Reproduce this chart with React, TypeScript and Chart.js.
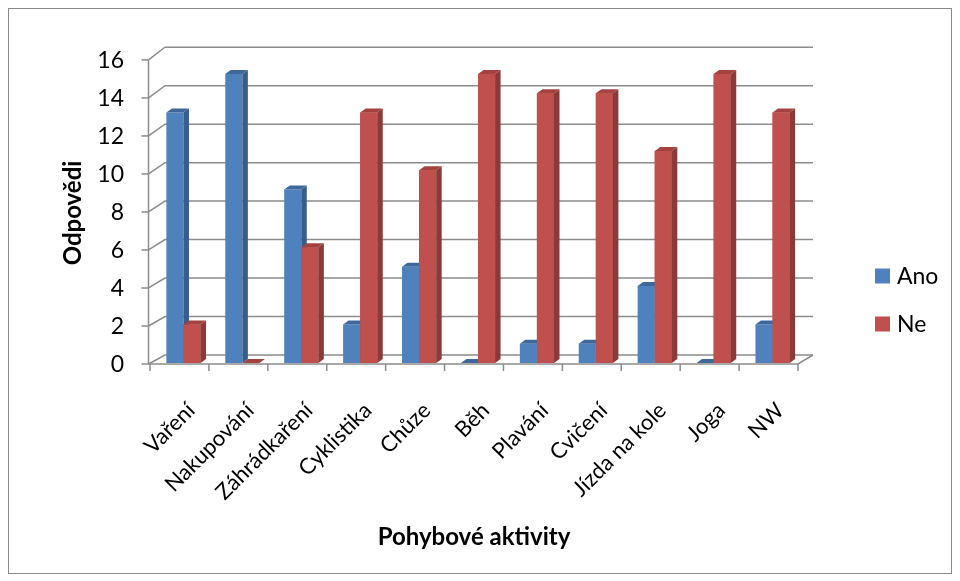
import React, { useEffect, useRef } from 'react';
import { Chart, registerables } from 'chart.js';

Chart.register(...registerables);

// Survey answers per physical activity
const categories = [
  'Vaření',
  'Nakupování',
  'Záhrádkaření',
  'Cyklistika',
  'Chůze',
  'Běh',
  'Plavání',
  'Cvičení',
  'Jízda na kole',
  'Joga',
  'NW',
];
const anoValues = [13, 15, 9, 2, 5, 0, 1, 1, 4, 0, 2];
const neValues = [2, 0, 6, 13, 10, 15, 14, 14, 11, 15, 13];
const seriesNames = ['Ano', 'Ne'];
const yTicks = [0, 2, 4, 6, 8, 10, 12, 14, 16];
const xTitle = 'Pohybové aktivity';
const yTitle = 'Odpovědi';

const FONT = 'Lato, "Open Sans", sans-serif';
const BLUE = { front: '#4f81bd', side: '#385d8a', top: '#3e689c' };
const RED = { front: '#c0504d', side: '#8a3a38', top: '#a4423f' };
const GRID = '#8c8c8c';

// depth of the pseudo-3D extrusion
const DX = 5.5;
const DY = -4;
const BAR_SHIFT = 4;
const WALL_DX = 15;

function drawFaces(ctx: CanvasRenderingContext2D, el: any, side: string, top: string) {
  const p = el.getProps(['x', 'y', 'width', 'base'], true);
  const l = p.x - p.width / 2;
  const r = p.x + p.width / 2;
  const t = Math.min(p.y, p.base);
  const b = Math.max(p.y, p.base);
  ctx.fillStyle = side;
  ctx.beginPath();
  ctx.moveTo(r, t);
  ctx.lineTo(r + DX, t + DY);
  ctx.lineTo(r + DX, b + DY);
  ctx.lineTo(r, b);
  ctx.closePath();
  ctx.fill();
  ctx.fillStyle = top;
  ctx.beginPath();
  ctx.moveTo(l, t);
  ctx.lineTo(l + DX, t + DY);
  ctx.lineTo(r + DX, t + DY);
  ctx.lineTo(r, t);
  ctx.closePath();
  ctx.fill();
}

const wallPlugin = {
  id: 'wall3d',
  beforeDraw(chart: any) {
    const { ctx, chartArea, scales } = chart;
    const y = scales.y;
    const bottom = chartArea.bottom;
    const left = chartArea.left;
    const right = chartArea.right;
    const frontY = (v: number) => bottom + 1 + (y.getPixelForValue(v) - bottom) * 0.986;
    const backY = (v: number) => bottom - 8 + (y.getPixelForValue(v) - bottom) * 0.998;
    const fx = left - 1.5;

    ctx.save();
    ctx.fillStyle = '#ffffff';
    ctx.fillRect(0, 0, chart.width, chart.height);

    // outer frame
    ctx.strokeStyle = '#8a8a8a';
    ctx.lineWidth = 1;
    ctx.strokeRect(8.5, 8.5, 943, 565);

    ctx.strokeStyle = GRID;
    ctx.lineWidth = 1.5;
    // back wall gridlines with their links to the front axis
    yTicks.forEach((v) => {
      const by = backY(v);
      ctx.beginPath();
      ctx.moveTo(fx, frontY(v));
      ctx.lineTo(left + WALL_DX, by);
      ctx.lineTo(right + WALL_DX, by);
      ctx.stroke();
    });

    // floor front edge and right edge
    const fy = frontY(0);
    ctx.beginPath();
    ctx.moveTo(fx, fy);
    ctx.lineTo(right, fy);
    ctx.lineTo(right + WALL_DX, backY(0));
    ctx.stroke();

    // front value axis
    ctx.beginPath();
    ctx.moveTo(fx, frontY(yTicks[yTicks.length - 1]));
    ctx.lineTo(fx, fy);
    ctx.stroke();

    // value ticks and labels
    ctx.fillStyle = '#000000';
    ctx.font = `23px ${FONT}`;
    ctx.textAlign = 'right';
    ctx.textBaseline = 'middle';
    yTicks.forEach((v) => {
      const ty = frontY(v);
      ctx.beginPath();
      ctx.moveTo(fx - 7, ty);
      ctx.lineTo(fx, ty);
      ctx.stroke();
      ctx.fillText(String(v), 124, ty + 1);
    });

    // category ticks
    const w = (right - left) / categories.length;
    for (let i = 0; i <= categories.length; i++) {
      const tx = left + i * w;
      ctx.beginPath();
      ctx.moveTo(tx, fy);
      ctx.lineTo(tx, fy + 7);
      ctx.stroke();
    }
    ctx.restore();
  },
  beforeDatasetsDraw(chart: any) {
    chart.ctx.save();
    chart.ctx.translate(BAR_SHIFT, 0);
  },
  afterDatasetsDraw(chart: any) {
    const ctx = chart.ctx;
    const ano = chart.getDatasetMeta(0).data;
    const ne = chart.getDatasetMeta(1).data;
    for (let i = 0; i < categories.length; i++) {
      drawFaces(ctx, ano[i], BLUE.side, BLUE.top);
      ne[i].draw(ctx);
      drawFaces(ctx, ne[i], RED.side, RED.top);
    }
    ctx.restore();
  },
  afterDraw(chart: any) {
    const { ctx, scales } = chart;
    const x = scales.x;
    ctx.save();
    ctx.fillStyle = '#000000';

    // rotated category labels, end of text below the axis
    ctx.font = `22px ${FONT}`;
    ctx.textAlign = 'right';
    ctx.textBaseline = 'top';
    categories.forEach((c, i) => {
      const cx = x.getPixelForValue(i) + 4;
      ctx.save();
      ctx.translate(cx, 399);
      ctx.rotate(-Math.PI / 4);
      ctx.fillText(c, 0, 0);
      ctx.restore();
    });

    // axis titles
    ctx.font = `bold 24px ${FONT}`;
    ctx.textAlign = 'center';
    ctx.textBaseline = 'middle';
    ctx.fillText(xTitle, 474, 537);
    ctx.save();
    ctx.translate(73, 213);
    ctx.rotate(-Math.PI / 2);
    ctx.fillText(yTitle, 0, 0);
    ctx.restore();

    // legend
    ctx.font = `23px ${FONT}`;
    ctx.textAlign = 'left';
    const legendColors = [BLUE.front, RED.front];
    seriesNames.forEach((n, i) => {
      const ly = 276 + i * 48;
      ctx.fillStyle = legendColors[i];
      ctx.fillRect(875, ly - 7.5, 15, 15);
      ctx.fillStyle = '#000000';
      ctx.fillText(n, 897, ly + 1);
    });
    ctx.restore();
  },
};

export default function App() {
  const ref = useRef<HTMLCanvasElement>(null);
  useEffect(() => {
    if (!ref.current) return;
    const chart = new Chart(ref.current, {
      type: 'bar',
      data: {
        labels: categories,
        datasets: [
          { label: seriesNames[0], data: anoValues, backgroundColor: BLUE.front, borderWidth: 0 },
          { label: seriesNames[1], data: neValues, backgroundColor: RED.front, borderWidth: 0 },
        ],
      },
      options: {
        responsive: false,
        maintainAspectRatio: false,
        devicePixelRatio: 1,
        animation: false,
        layout: { padding: { left: 150, right: 162, top: 54.6, bottom: 218 } },
        datasets: { bar: { categoryPercentage: 0.58, barPercentage: 1, clip: false } as any },
        plugins: { legend: { display: false }, tooltip: { enabled: false } },
        scales: {
          x: { display: false },
          y: { display: false, min: 0, max: 16 },
        },
      },
      plugins: [wallPlugin],
    });
    return () => chart.destroy();
  }, []);
  return (
    <div style={{ position: 'absolute', left: 0, top: 0, width: 960, height: 581 }}>
      <canvas ref={ref} width={960} height={581} style={{ display: 'block' }} />
    </div>
  );
}
